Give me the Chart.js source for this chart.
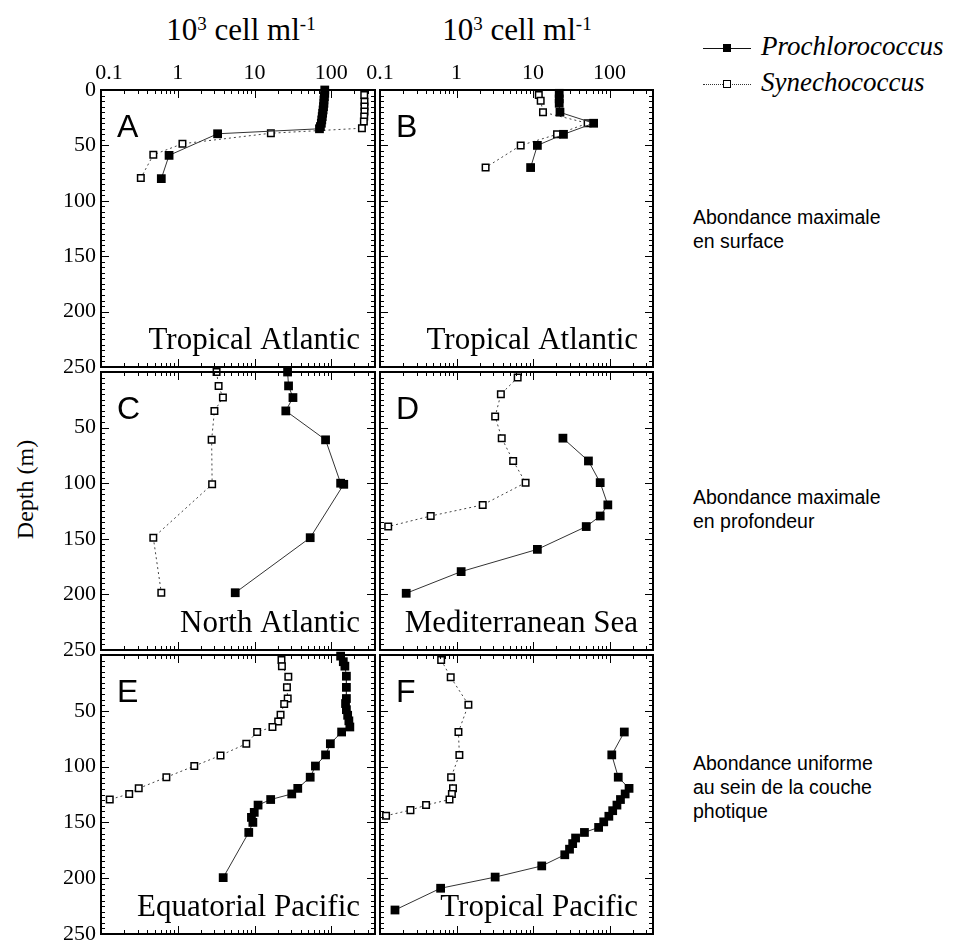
<!DOCTYPE html>
<html>
<head>
<meta charset="utf-8">
<script src="https://cdn.jsdelivr.net/npm/chart.js@4.4.0/dist/chart.umd.min.js"></script>
<style>
  body { margin: 0; background: #fff; width: 957px; height: 942px; position: relative; overflow: hidden; }
  canvas.panel { position: absolute; }
  .ttl { position: absolute; top: 12px; width: 260px; text-align: center; font-family: "Liberation Serif", serif; font-size: 31px; white-space: nowrap; }
  .ttl sup { font-size: 19px; vertical-align: 10px; line-height: 0; }
  .ylab { position: absolute; left: -30px; top: 476px; width: 110px; text-align: center; font-family: "Liberation Serif", serif; font-size: 24px; transform: rotate(-90deg); white-space: nowrap; }
  .note { position: absolute; left: 693px; font-family: "Liberation Sans", Arial, sans-serif; font-size: 19.5px; line-height: 24px; }
  .leg { position: absolute; left: 703px; font-family: "Liberation Serif", serif; font-style: italic; font-size: 27px; white-space: nowrap; }
  .sw { display: inline-block; width: 48px; height: 0; position: relative; vertical-align: middle; margin-right: 10px; }
  .sw.pro { border-top: 1.5px solid #111; }
  .sw.syn { border-top: 1.5px dotted #333; }
  .sw::after { content: ''; position: absolute; left: 20px; top: -5.5px; width: 8px; height: 8px; box-sizing: border-box; }
  .sw.pro::after { background: #000; }
  .sw.syn::after { background: #fff; border: 1.5px solid #000; }
</style>
</head>
<body>
<div class="ttl" style="left:111px">10<sup>3</sup> cell ml<sup>-1</sup></div>
<div class="ttl" style="left:387px">10<sup>3</sup> cell ml<sup>-1</sup></div>
<div class="ylab">Depth (m)</div>
<div class="leg" style="top:31px"><span class="sw pro"></span>Prochlorococcus</div>
<div class="leg" style="top:67px"><span class="sw syn"></span>Synechococcus</div>
<div class="note" style="top:205px">Abondance maximale<br>en surface</div>
<div class="note" style="top:485px">Abondance maximale<br>en profondeur</div>
<div class="note" style="top:751px">Abondance uniforme<br>au sein de la couche<br>photique</div>
<script>
// axis ticks
const xTicks = [0.1, 1, 10, 100];
const depthTicks = [0, 50, 100, 150, 200, 250];
const panelLetters = ['A', 'B', 'C', 'D', 'E', 'F'];
const regions = ['Tropical Atlantic', 'Tropical Atlantic', 'North Atlantic', 'Mediterranean Sea', 'Equatorial Pacific', 'Tropical Pacific'];

// A - Tropical Atlantic
const proDepthA = [0, 3, 6, 9, 12, 15, 18, 21, 24, 27, 30, 33, 35, 39.5, 59, 80];
const proA = [82, 82, 81, 80, 80, 79, 78, 77, 76, 75, 74, 72, 70, 3.3, 0.77, 0.61];
const synDepthA = [4.5, 10.5, 15, 19.5, 24, 28.5, 34.5, 39, 48.5, 58.5, 79.5];
const synA = [268, 270, 270, 270, 268, 265, 250, 16.3, 1.15, 0.48, 0.33];

// B - Tropical Atlantic
const proDepthB = [3, 8, 12, 20, 30, 40, 50, 70];
const proB = [22, 22, 22, 22.5, 62, 25, 11.4, 9.3];
const synDepthB = [4.5, 9.6, 20, 30, 40, 50, 70];
const synB = [11.9, 12.6, 13.5, 51.7, 20.6, 6.9, 2.4];

// C - North Atlantic
const proDepthC = [0, 12.5, 23, 35, 61, 100, 101, 149, 198.5];
const proC = [26.9, 27.7, 31.6, 25.5, 84, 132, 145, 53, 5.6];
const synDepthC = [0, 12.5, 23, 35, 61, 101, 149, 198.5];
const synC = [3.2, 3.4, 3.87, 3.0, 2.76, 2.8, 0.48, 0.61];

// D - Mediterranean Sea
const proDepthD = [59.5, 80, 99.5, 119.5, 129.5, 139, 159.5, 179.5, 199];
const proD = [24.6, 53, 75.5, 95, 75.5, 49.6, 11.4, 1.15, 0.22];
const synDepthD = [5, 20, 40, 59.5, 80, 99.5, 119.5, 129.5, 139];
const synD = [6.3, 3.8, 3.2, 3.9, 5.5, 8.0, 2.2, 0.46, 0.128];

// E - Equatorial Pacific
const proDepthE = [1, 6, 10, 19, 29, 39, 43.5, 49, 54, 59, 64.5, 69, 79.5, 89.5, 99.5, 109.5, 119.5, 124.5, 129.5, 134.5, 141, 145.5, 150, 159, 199.5];
const proE = [132, 143, 150, 157, 157, 157, 153, 157, 163, 169, 174, 136, 97, 84, 62, 53, 36.5, 30.5, 16.2, 11.1, 9.9, 9.1, 9.5, 8.4, 3.9];
const synDepthE = [4.5, 10, 19.5, 29, 39, 44, 53.5, 59.5, 64.5, 69, 79.5, 90, 99.5, 109.5, 119.5, 124.5, 129.5];
const synE = [22.4, 22.7, 27.5, 26.4, 27, 24.3, 21.8, 20.3, 17.1, 10.8, 7.8, 3.6, 1.64, 0.71, 0.31, 0.233, 0.13];

// F - Tropical Pacific
const proDepthF = [69, 89.5, 109.5, 119.5, 124.5, 129.5, 134.5, 139.5, 144.5, 149.5, 154.5, 159, 164, 169, 174, 179, 189, 199, 209, 228.5];
const proF = [156, 107, 130, 180, 160, 139, 125, 110, 98, 84, 72, 47, 36, 33, 30, 26, 13, 3.2, 0.62, 0.157];
const synDepthF = [4.5, 20, 44.5, 69, 89.5, 109.5, 119.5, 124.5, 129.5, 134.5, 139, 144];
const synF = [0.63, 0.84, 1.43, 1.06, 1.09, 0.85, 0.9, 0.87, 0.81, 0.4, 0.25, 0.12];

const proSeries = [[proDepthA, proA], [proDepthB, proB], [proDepthC, proC], [proDepthD, proD], [proDepthE, proE], [proDepthF, proF]];
const synSeries = [[synDepthA, synA], [synDepthB, synB], [synDepthC, synC], [synDepthD, synD], [synDepthE, synE], [synDepthF, synF]];

// plot frames on the page: left, top, right, bottom
const frames = [
  [101, 90, 375, 367], [380, 90, 653, 367],
  [101, 372, 375, 650], [380, 372, 653, 650],
  [101, 655, 375, 934], [380, 655, 653, 934]
];
const M = 60;

const framePlugin = {
  id: 'frame',
  afterDatasetsDraw(chart, args, opts) {
    const { ctx, chartArea: a, scales: { x, y } } = chart;
    ctx.save();
    ctx.strokeStyle = '#000';
    ctx.lineWidth = 1;
    ctx.beginPath();
    // depth ticks, inward on both sides
    for (let d = 0; d <= 250; d += 5) {
      const py = Math.round(y.getPixelForValue(d)) + 0.5;
      const len = d % 50 === 0 ? 8 : 4;
      ctx.moveTo(a.left, py); ctx.lineTo(a.left + len, py);
      ctx.moveTo(a.right, py); ctx.lineTo(a.right - len, py);
    }
    // log ticks, inward top and bottom
    for (let k = -1; k <= 2; k++) {
      for (let m = 1; m <= 9; m++) {
        const v = m * Math.pow(10, k);
        if (v > x.max) break;
        const px = Math.round(x.getPixelForValue(v)) + 0.5;
        const len = m === 1 ? 8 : 4;
        ctx.moveTo(px, a.top); ctx.lineTo(px, a.top + len);
        ctx.moveTo(px, a.bottom); ctx.lineTo(px, a.bottom - len);
      }
    }
    ctx.stroke();
    ctx.lineWidth = 2;
    ctx.strokeRect(a.left, a.top, a.right - a.left, a.bottom - a.top);

    ctx.fillStyle = '#000';
    ctx.font = '22px "Liberation Serif", serif';
    if (opts.yLabels) {
      ctx.textAlign = 'right';
      ctx.textBaseline = 'middle';
      depthTicks.forEach(d => {
        if (d === 0 && !opts.zeroLabel) return;
        ctx.fillText(String(d), a.left - 5, y.getPixelForValue(d));
      });
    }
    ctx.textBaseline = 'alphabetic';
    if (opts.xLabels) {
      ctx.textAlign = 'center';
      xTicks.forEach(v => {
        const shift = (v === 0.1 && opts.yLabels) ? 8 : 0;
        ctx.fillText(String(v), x.getPixelForValue(v) + shift, a.top - 11);
      });
    }
    ctx.font = '32px "Liberation Sans", Arial, sans-serif';
    ctx.textAlign = 'left';
    ctx.fillText(opts.letter, a.left + 16, a.top + 47);
    ctx.font = '31px "Liberation Serif", serif';
    ctx.textAlign = 'right';
    ctx.fillText(opts.region, a.right - 15, a.bottom - 18);
    ctx.restore();
  }
};

frames.forEach((f, i) => {
  const [l, t, r, b] = f;
  const cv = document.createElement('canvas');
  cv.className = 'panel';
  cv.width = r - l + 2 * M;
  cv.height = b - t + 2 * M;
  cv.style.left = (l - M) + 'px';
  cv.style.top = (t - M) + 'px';
  document.body.appendChild(cv);

  const [pd, pv] = proSeries[i];
  const [sd, sv] = synSeries[i];

  new Chart(cv, {
    type: 'scatter',
    data: {
      datasets: [{
        label: 'Prochlorococcus',
        data: pv.map((v, j) => ({ x: v, y: pd[j] })),
        showLine: true,
        borderColor: '#333',
        borderWidth: 1,
        pointStyle: 'rect',
        pointRadius: 6.2,
        pointBackgroundColor: '#000',
        pointBorderColor: '#000',
        pointBorderWidth: 0,
        clip: 12
      }, {
        label: 'Synechococcus',
        data: sv.map((v, j) => ({ x: v, y: sd[j] })),
        showLine: true,
        borderColor: '#444',
        borderWidth: 1,
        borderDash: [2, 3],
        pointStyle: 'rect',
        pointRadius: 4.6,
        pointBackgroundColor: '#fff',
        pointBorderColor: '#000',
        pointBorderWidth: 1.5,
        clip: 12
      }]
    },
    options: {
      responsive: false,
      animation: false,
      events: [],
      layout: { padding: M },
      plugins: {
        legend: { display: false },
        tooltip: { enabled: false },
        frame: {
          letter: panelLetters[i],
          region: regions[i],
          xLabels: i < 2,
          yLabels: i % 2 === 0,
          zeroLabel: i === 0
        }
      },
      scales: {
        x: { type: 'logarithmic', min: 0.1, max: 370, display: false },
        y: { type: 'linear', min: 0, max: 250, reverse: true, display: false }
      }
    },
    plugins: [framePlugin]
  });
});
</script>
</body>
</html>
